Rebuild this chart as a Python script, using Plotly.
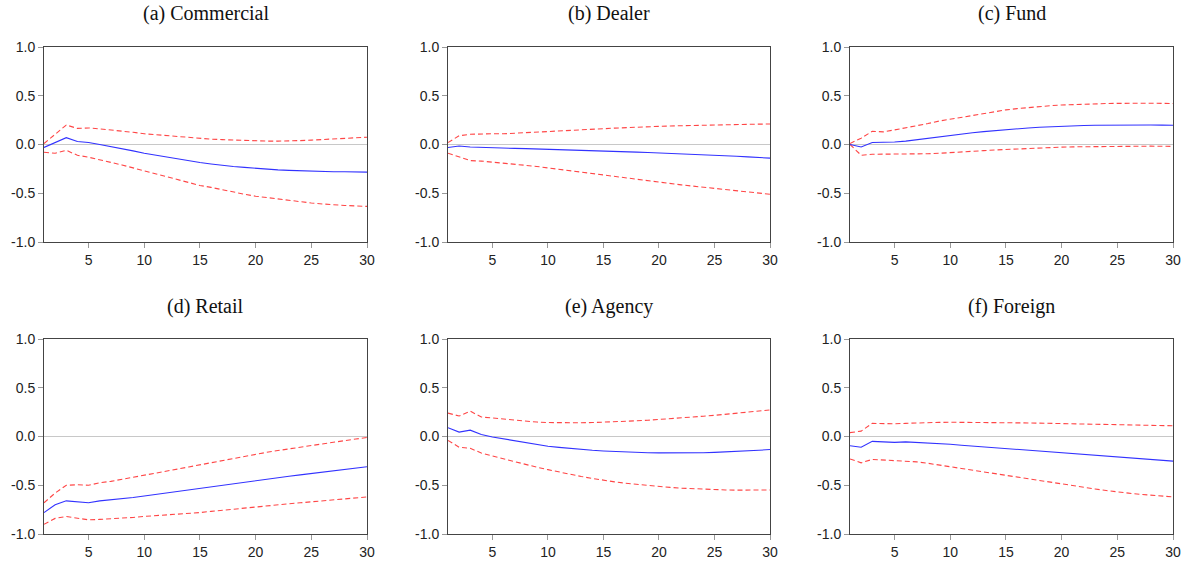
import plotly.graph_objects as go

horizons = list(range(1, 31))
titles = ["(a) Commercial", "(b) Dealer", "(c) Fund", "(d) Retail", "(e) Agency", "(f) Foreign"]

commercial_irf = [-0.03, 0.02, 0.07, 0.03, 0.02, 0.00, -0.02, -0.045, -0.065, -0.09, -0.11, -0.13, -0.15, -0.17, -0.185,
                  -0.20, -0.215, -0.225, -0.235, -0.245, -0.255, -0.26, -0.265, -0.27, -0.275, -0.278, -0.28, -0.28, -0.282, -0.283]
commercial_up = [0.01, 0.11, 0.20, 0.165, 0.17, 0.16, 0.15, 0.14, 0.125, 0.11, 0.10, 0.09, 0.08, 0.07, 0.06,
                 0.055, 0.05, 0.045, 0.04, 0.037, 0.035, 0.035, 0.035, 0.04, 0.045, 0.05, 0.055, 0.06, 0.07, 0.075]
commercial_lo = [-0.08, -0.09, -0.06, -0.11, -0.13, -0.155, -0.18, -0.21, -0.24, -0.27, -0.30, -0.33, -0.36, -0.39, -0.42,
                 -0.44, -0.465, -0.49, -0.51, -0.53, -0.545, -0.56, -0.575, -0.59, -0.60, -0.61, -0.62, -0.625, -0.63, -0.635]

dealer_irf = [-0.03, -0.015, -0.025, -0.03, -0.035, -0.037, -0.04, -0.042, -0.045, -0.048, -0.05, -0.053, -0.057, -0.06, -0.065,
              -0.07, -0.074, -0.078, -0.082, -0.086, -0.09, -0.095, -0.1, -0.105, -0.11, -0.115, -0.12, -0.127, -0.133, -0.14]
dealer_up = [0.02, 0.09, 0.105, 0.11, 0.11, 0.11, 0.115, 0.12, 0.125, 0.13, 0.135, 0.14, 0.148, 0.155, 0.162,
             0.168, 0.174, 0.178, 0.182, 0.186, 0.19, 0.193, 0.196, 0.199, 0.202, 0.205, 0.207, 0.208, 0.209, 0.21]
dealer_lo = [-0.09, -0.13, -0.165, -0.17, -0.18, -0.19, -0.2, -0.21, -0.225, -0.24, -0.255, -0.27, -0.285, -0.3, -0.315,
             -0.33, -0.345, -0.36, -0.375, -0.39, -0.402, -0.414, -0.426, -0.438, -0.45, -0.462, -0.474, -0.486, -0.498, -0.51]

fund_irf = [0.0, -0.025, 0.02, 0.02, 0.025, 0.035, 0.05, 0.065, 0.08, 0.095, 0.108, 0.12, 0.132, 0.143, 0.153,
            0.162, 0.17, 0.177, 0.183, 0.188, 0.192, 0.195, 0.197, 0.199, 0.2, 0.2, 0.2, 0.2, 0.199, 0.198]
fund_up = [0.01, 0.065, 0.135, 0.13, 0.15, 0.17, 0.195, 0.215, 0.24, 0.26, 0.28, 0.3, 0.32, 0.34, 0.355,
           0.368, 0.38, 0.39, 0.398, 0.405, 0.41, 0.415, 0.418, 0.42, 0.422, 0.424, 0.424, 0.423, 0.422, 0.42]
fund_lo = [0.0, -0.11, -0.1, -0.1, -0.1, -0.1, -0.098, -0.095, -0.09, -0.085, -0.078, -0.07, -0.063, -0.056, -0.05,
           -0.045, -0.04, -0.035, -0.03, -0.027, -0.024, -0.022, -0.02, -0.018, -0.017, -0.016, -0.016, -0.017, -0.018, -0.02]

retail_irf = [-0.78, -0.7, -0.66, -0.67, -0.68, -0.66, -0.65, -0.64, -0.625, -0.61, -0.594, -0.578, -0.562, -0.546, -0.53,
              -0.514, -0.498, -0.482, -0.466, -0.45, -0.436, -0.422, -0.408, -0.394, -0.38, -0.366, -0.352, -0.338, -0.324, -0.31]
retail_up = [-0.68, -0.58, -0.5, -0.495, -0.5, -0.475, -0.46, -0.44, -0.42, -0.4, -0.378, -0.356, -0.334, -0.312, -0.29,
             -0.268, -0.246, -0.224, -0.202, -0.18, -0.162, -0.144, -0.126, -0.108, -0.09, -0.074, -0.058, -0.042, -0.026, -0.01]
retail_lo = [-0.9, -0.84, -0.82, -0.84, -0.855, -0.85, -0.845, -0.84, -0.83, -0.82, -0.813, -0.805, -0.797, -0.789, -0.78,
             -0.768, -0.756, -0.744, -0.732, -0.72, -0.71, -0.7, -0.69, -0.68, -0.67, -0.66, -0.65, -0.64, -0.63, -0.62]

agency_irf = [0.09, 0.045, 0.065, 0.02, -0.005, -0.025, -0.045, -0.065, -0.082, -0.1, -0.112, -0.123, -0.133, -0.141, -0.148,
              -0.154, -0.159, -0.163, -0.166, -0.168, -0.169, -0.169, -0.168, -0.166, -0.163, -0.159, -0.154, -0.148, -0.141, -0.134]
agency_up = [0.24, 0.21, 0.26, 0.2, 0.19, 0.18, 0.165, 0.155, 0.148, 0.143, 0.14, 0.14, 0.141, 0.143, 0.146,
             0.15, 0.155, 0.161, 0.167, 0.174, 0.182, 0.19, 0.199, 0.208, 0.217, 0.227, 0.238, 0.249, 0.26, 0.272]
agency_lo = [-0.04, -0.11, -0.12, -0.17, -0.2, -0.23, -0.26, -0.29, -0.315, -0.34, -0.365, -0.39, -0.41, -0.43, -0.45,
             -0.465, -0.48, -0.492, -0.503, -0.513, -0.522, -0.53, -0.536, -0.541, -0.545, -0.548, -0.55, -0.55, -0.55, -0.548]

foreign_irf = [-0.095, -0.11, -0.05, -0.055, -0.06, -0.055, -0.06, -0.065, -0.072, -0.08, -0.089, -0.098, -0.107, -0.116, -0.125,
               -0.134, -0.143, -0.152, -0.161, -0.17, -0.179, -0.188, -0.197, -0.206, -0.215, -0.223, -0.231, -0.239, -0.246, -0.253]
foreign_up = [0.04, 0.055, 0.135, 0.13, 0.13, 0.135, 0.14, 0.143, 0.145, 0.146, 0.146, 0.146, 0.145, 0.144, 0.143,
              0.141, 0.139, 0.137, 0.135, 0.133, 0.131, 0.129, 0.127, 0.125, 0.123, 0.121, 0.119, 0.116, 0.113, 0.11]
foreign_lo = [-0.23, -0.27, -0.235, -0.24, -0.25, -0.255, -0.26, -0.275, -0.29, -0.31, -0.328, -0.346, -0.364, -0.382, -0.4,
              -0.418, -0.436, -0.454, -0.472, -0.49, -0.506, -0.522, -0.538, -0.554, -0.57, -0.581, -0.592, -0.603, -0.612, -0.62]

y_tickvals = [-1.0, -0.5, 0.0, 0.5, 1.0]
y_ticktext = ["-1.0", "-0.5", "0.0", "0.5", "1.0"]
x_tickvals = [5, 10, 15, 20, 25, 30]

panels = [
    (commercial_irf, commercial_up, commercial_lo),
    (dealer_irf, dealer_up, dealer_lo),
    (fund_irf, fund_up, fund_lo),
    (retail_irf, retail_up, retail_lo),
    (agency_irf, agency_up, agency_lo),
    (foreign_irf, foreign_up, foreign_lo),
]

W, H = 1182, 561
col_px = [(44, 367), (448, 770), (850, 1173)]
row_px = [(47, 242), (339, 534)]
title_y_px = [14, 306]

fig = go.Figure()
layout = dict(
    width=W, height=H, margin=dict(l=0, r=0, t=0, b=0, autoexpand=False),
    paper_bgcolor="white", plot_bgcolor="white", showlegend=False,
)
annotations = []
for i, (irf, up, lo) in enumerate(panels):
    r, c = divmod(i, 3)
    n = i + 1
    xa = "x" if n == 1 else f"x{n}"
    ya = "y" if n == 1 else f"y{n}"
    for vals, color, dash in [(up, "rgb(255,70,70)", "5px,3px"), (lo, "rgb(255,70,70)", "5px,3px"), (irf, "rgb(50,50,255)", "solid")]:
        fig.add_trace(go.Scatter(x=horizons, y=vals, mode="lines", xaxis=xa, yaxis=ya,
                                 line=dict(color=color, width=1.1, dash=dash),
                                 hoverinfo="skip"))
    x0, x1 = col_px[c]
    y0, y1 = row_px[r]
    axis_common = dict(showline=True, mirror=True, linecolor="#444444", linewidth=1, automargin=False,
                       ticks="outside", ticklen=5, tickcolor="#999999", showgrid=False,
                       tickfont=dict(family="Liberation Sans, Arial, sans-serif", size=14, color="#222222"))
    layout[f"xaxis{'' if n == 1 else n}"] = dict(
        domain=[x0 / W, x1 / W], range=[1, 30], tickvals=x_tickvals, zeroline=False,
        anchor=ya, **axis_common)
    layout[f"yaxis{'' if n == 1 else n}"] = dict(
        domain=[1 - y1 / H, 1 - y0 / H], range=[-1.0, 1.0], tickvals=y_tickvals, ticktext=y_ticktext,
        zeroline=True, zerolinecolor="#c8c8c8", zerolinewidth=1, anchor=xa, **axis_common)
    annotations.append(dict(text=titles[i], xref="paper", yref="paper",
                            x=(x0 + x1) / 2 / W, y=1 - title_y_px[r] / H,
                            xanchor="center", yanchor="middle", showarrow=False,
                            font=dict(family="Liberation Serif, Times New Roman, serif", size=20, color="#111111")))
layout["annotations"] = annotations
fig.update_layout(**layout)
fig.write_html("out.html")
